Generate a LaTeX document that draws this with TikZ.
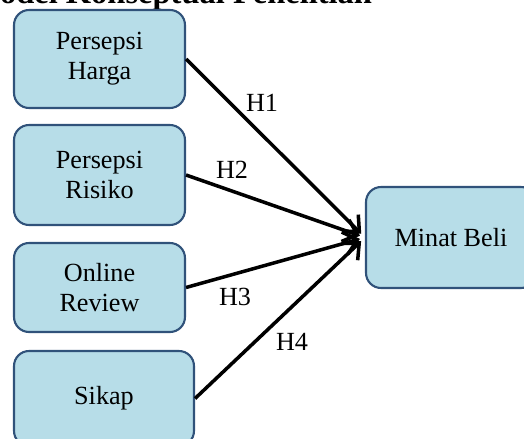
\documentclass[tikz,border=0pt]{standalone}
\usepackage{fontspec}
\setmainfont{Liberation Serif}
\usetikzlibrary{arrows.meta}
\definecolor{boxfill}{HTML}{B7DDE8}
\definecolor{boxline}{HTML}{30527A}
\begin{document}
\begin{tikzpicture}[x=0.02cm,y=-0.02cm,
  varbox/.style={draw=boxline, fill=boxfill, line width=1.2pt, rounded corners=0.3cm,
    inner sep=0pt, align=center, font=\fontsize{14.9pt}{17.1pt}\selectfont},
  hyp/.style={font=\fontsize{14.9pt}{17.1pt}\selectfont, inner sep=0pt},
  arr/.style={line width=2pt, -{Straight Barb[length=0.26cm,width=0.46cm]}, shorten >=1.5\pgflinewidth}]
\useasboundingbox (0,0) rectangle (524,439);
\clip (0,0) rectangle (524,439);
\node[anchor=base west, inner sep=0pt, font=\fontsize{18.5pt}{22pt}\selectfont\bfseries] (title) at (-31,4) {Model Konseptual Penelitian};
\node[varbox, minimum width=3.42cm, minimum height=1.96cm] (b1) at (99.5,59) {Persepsi\\Harga};
\node[varbox, minimum width=3.42cm, minimum height=2.0cm] (b2) at (99.5,175) {Persepsi\\Risiko};
\node[varbox, minimum width=3.42cm, minimum height=1.78cm] (b3) at (99.5,287.5) {Online\\Review};
\node[varbox, minimum width=3.6cm, minimum height=1.9cm] (b4) at (104,398.5) {Sikap};
\node[varbox, minimum width=3.4cm, minimum height=2.02cm] (mb) at (451,237.5) {Minat Beli};
\draw[arr] (b1.east) -- (mb.west);
\draw[arr] (b2.east) -- (mb.west);
\draw[arr] (b3.east) -- (mb.west);
\draw[arr] (b4.east) -- (mb.west);
\node[hyp] (h1) at (262,103) {H1};
\node[hyp] (h2) at (232,170) {H2};
\node[hyp] (h3) at (235,297) {H3};
\node[hyp] (h4) at (292,342) {H4};
\end{tikzpicture}
\end{document}
